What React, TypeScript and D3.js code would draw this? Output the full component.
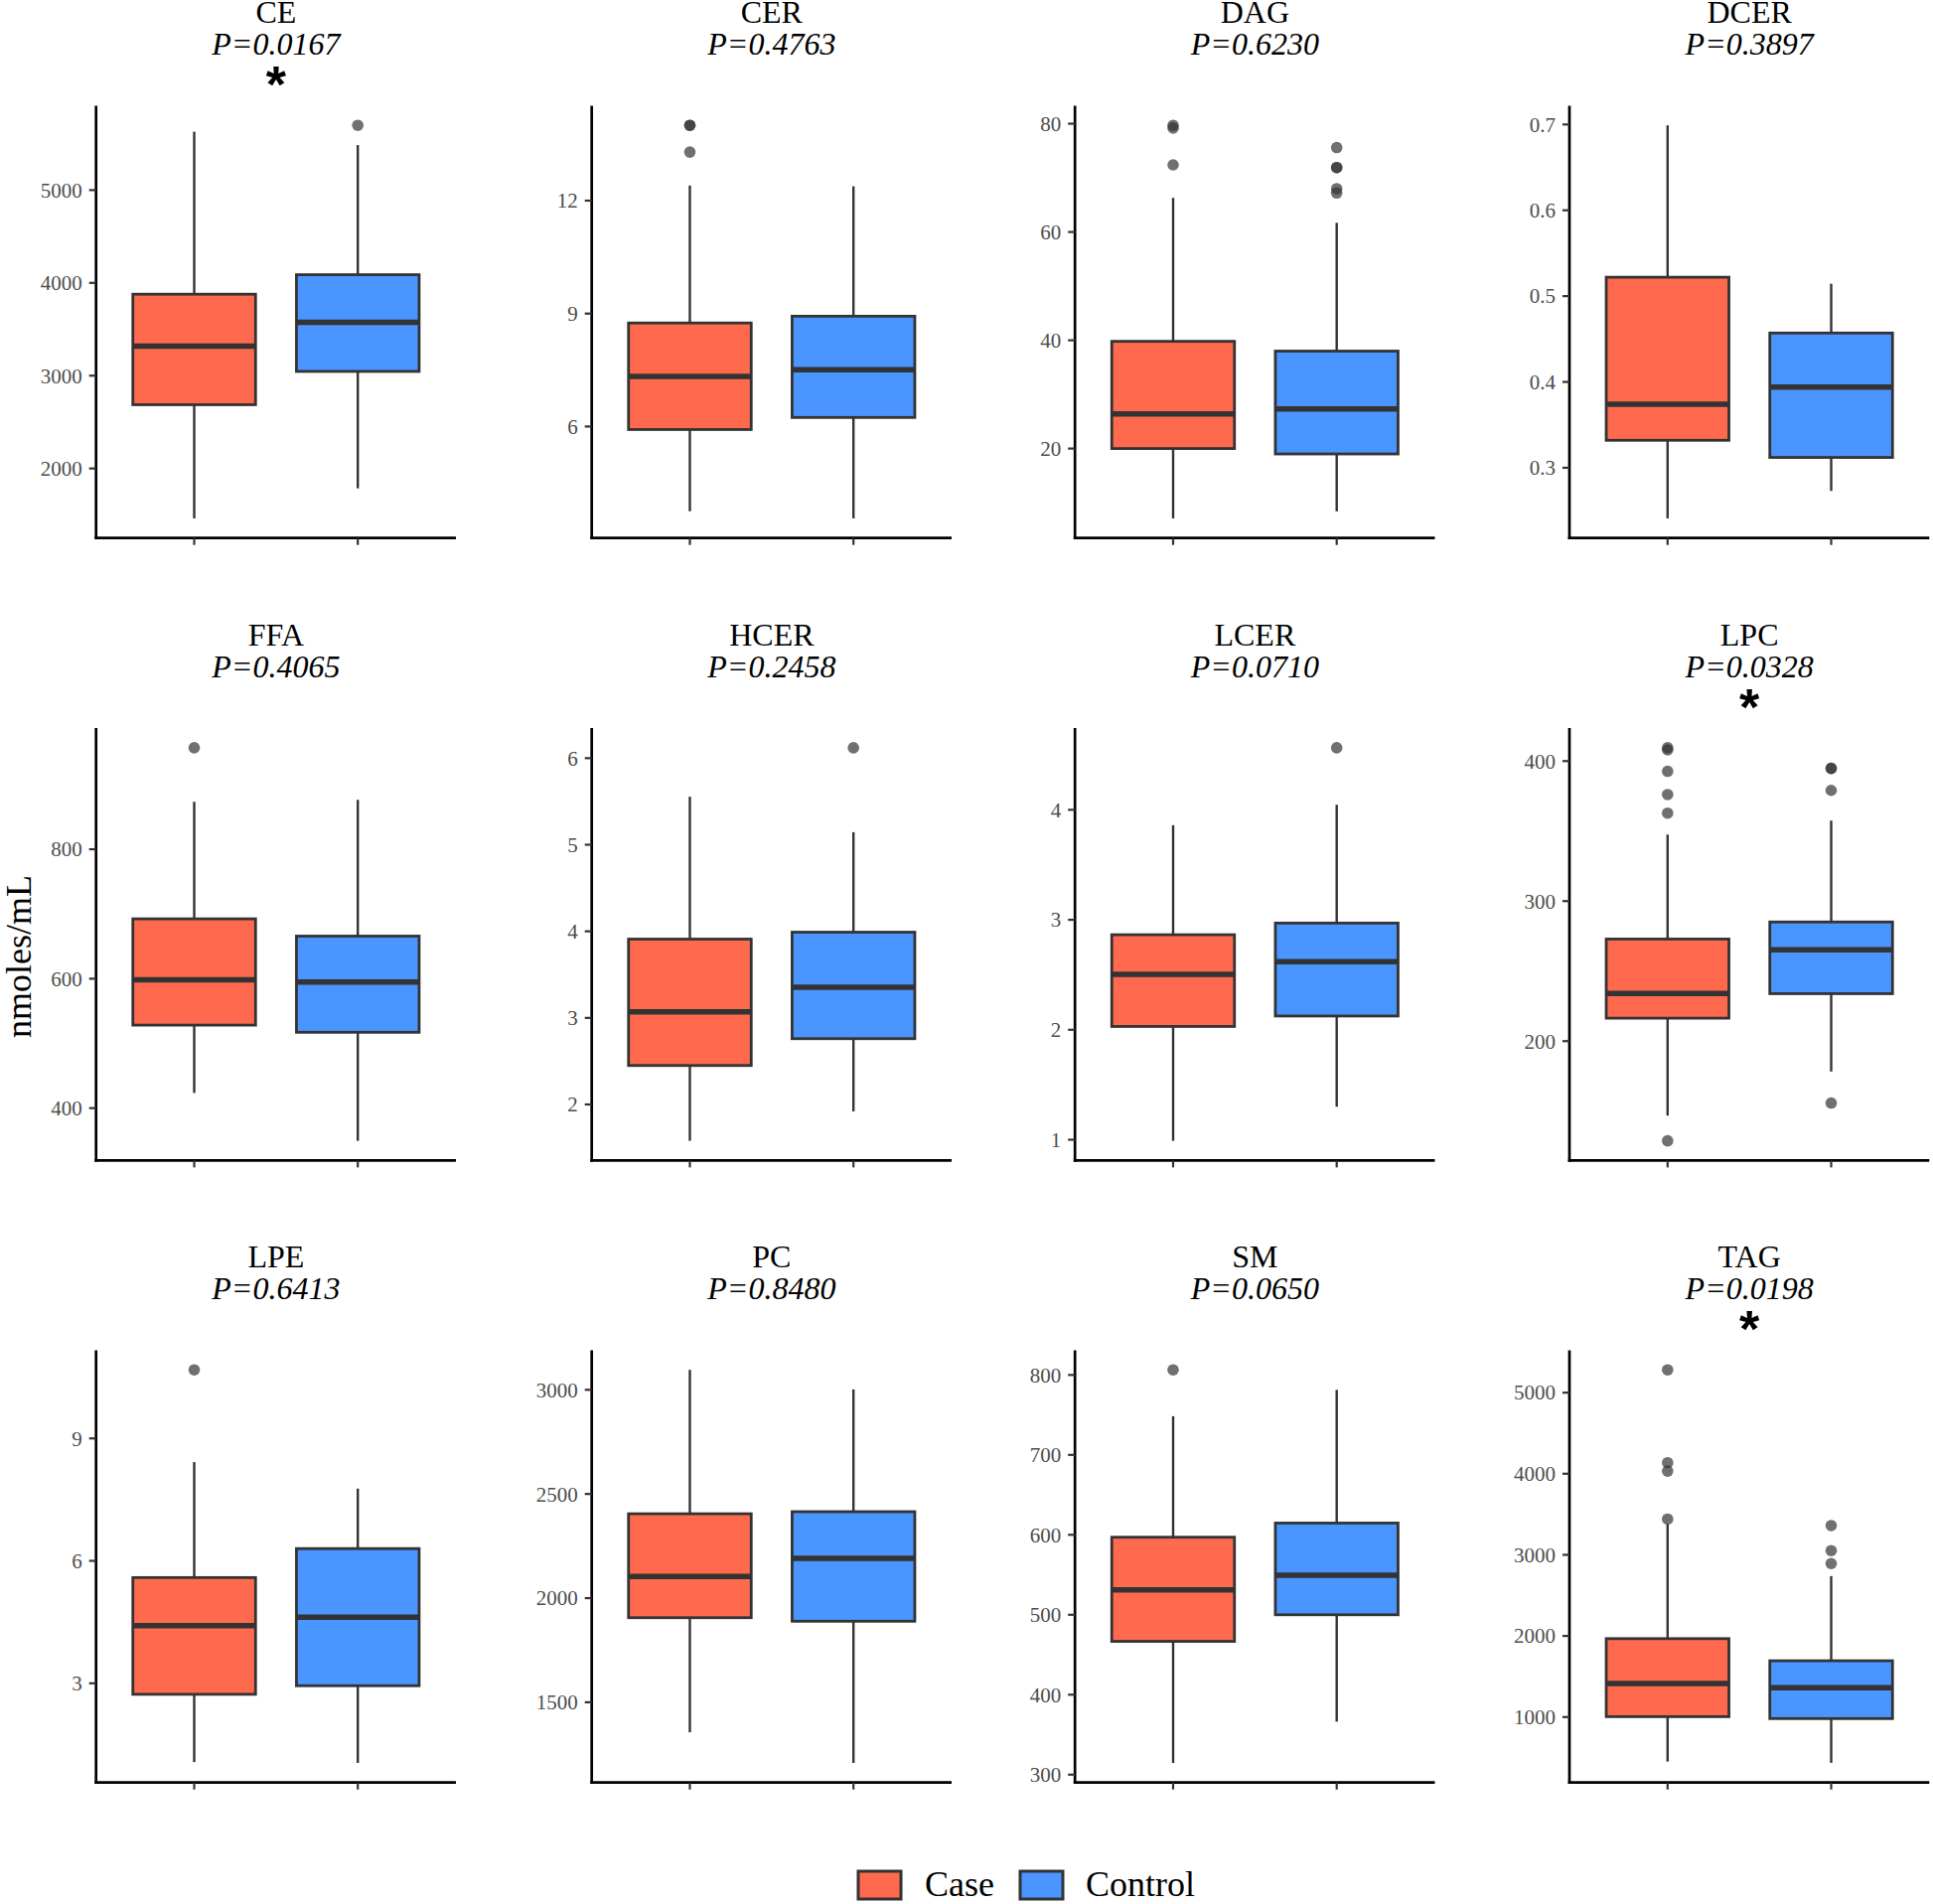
import React from "react";
import * as d3 from "d3";

// lipid classes, in panel order (row by row)
const lipids = ["CE", "CER", "DAG", "DCER", "FFA", "HCER", "LCER", "LPC", "LPE", "PC", "SM", "TAG"];
const pValues = ["0.0167", "0.4763", "0.6230", "0.3897", "0.4065", "0.2458", "0.0710", "0.0328", "0.6413", "0.8480", "0.0650", "0.0198"];

// [lower whisker, Q1, median, Q3, upper whisker]
const caseStats = [
  [1462, 2687, 3317, 3878, 5630],
  [3.75, 5.92, 7.33, 8.75, 12.4],
  [7.1, 20.0, 26.4, 39.8, 66.3],
  [0.241, 0.332, 0.374, 0.522, 0.699],
  [423.5, 528.3, 598.2, 692.5, 873.4],
  [1.58, 2.45, 3.07, 3.91, 5.555],
  [0.99, 2.03, 2.504, 2.864, 3.86],
  [146.8, 216.4, 234.1, 272.9, 347.5],
  [1.07, 2.73, 4.41, 5.59, 8.42],
  [1356, 1906, 2104, 2405, 3096],
  [314.7, 466.7, 531.1, 597, 748.4],
  [451, 1005, 1415, 1967, 3380],
];
const controlStats = [
  [1786, 3046, 3576, 4088, 5485],
  [3.56, 6.24, 7.51, 8.93, 12.38],
  [8.4, 19.0, 27.3, 38.0, 61.7],
  [0.273, 0.312, 0.394, 0.457, 0.5145],
  [349.5, 517.2, 594.7, 665.8, 876.4],
  [1.92, 2.76, 3.355, 3.99, 5.145],
  [1.3, 2.125, 2.618, 2.97, 4.046],
  [178.3, 233.9, 265.3, 285.1, 357.5],
  [1.05, 2.94, 4.62, 6.3, 7.77],
  [1209, 1889, 2191, 2415, 3002],
  [366.3, 500, 549.3, 614.7, 781.3],
  [435, 981, 1363, 1694, 2738],
];
const caseOutliers = [
  [],
  [14.0, 14.0, 13.29],
  [79.7, 79.2, 72.4],
  [],
  [956.8],
  [],
  [],
  [409.5, 408.0, 392.7, 376.1, 362.8, 128.8],
  [10.68],
  [],
  [806.4],
  [5281, 4136, 4033, 3441],
];
const controlOutliers = [
  [5698],
  [],
  [75.6, 71.9, 71.9, 68.0, 67.2],
  [],
  [],
  [6.12],
  [4.564],
  [394.8, 394.8, 379.1, 155.8],
  [],
  [],
  [],
  [3361, 3052, 2892],
];
const yTicks = [
  [2000, 3000, 4000, 5000],
  [6, 9, 12],
  [20, 40, 60, 80],
  [0.3, 0.4, 0.5, 0.6, 0.7],
  [400, 600, 800],
  [2, 3, 4, 5, 6],
  [1, 2, 3, 4],
  [200, 300, 400],
  [3, 6, 9],
  [1500, 2000, 2500, 3000],
  [300, 400, 500, 600, 700, 800],
  [1000, 2000, 3000, 4000, 5000],
];
const groups = ["Case", "Control"];
const groupColors = ["#FF6A4E", "#4A95FF"];

const W = 1946;
const H = 1917;
const colX = [96.7, 595.7, 1082.2, 1580];
const rowY = [106.4, 733.1, 1359.4];
const plotW = 362.3;
const plotH = 435.3;
const serif = "'Liberation Serif', 'Times New Roman', serif";
const boxStroke = "#333333";

const Panel = ({ i }: { i: number }) => {
  const x0 = colX[i % 4];
  const y0 = rowY[Math.floor(i / 4)];
  const x = d3.scalePoint().domain(groups).range([x0, x0 + plotW]).padding(0.6);
  const bw = x.step() * 0.75;

  const stats = [caseStats[i], controlStats[i]];
  const outs = [caseOutliers[i], controlOutliers[i]];
  const all = [...stats[0], ...stats[1], ...outs[0], ...outs[1]];
  const [lo, hi] = d3.extent(all) as [number, number];
  const pad = (hi - lo) * 0.05;
  const y = d3.scaleLinear().domain([lo - pad, hi + pad]).range([y0 + plotH, y0]);

  const cx = x0 + plotW / 2;
  const sig = +pValues[i] < 0.05;

  return (
    <g>
      <text x={cx} y={y0 - 83} textAnchor="middle" fontFamily={serif} fontSize={32} fill="#000">
        {lipids[i]}
      </text>
      <text x={cx} y={y0 - 51} textAnchor="middle" fontFamily={serif} fontStyle="italic" fontSize={32} fill="#000">
        {`P=${pValues[i]}`}
      </text>
      {sig && (
        <text x={cx} y={y0 - 3} textAnchor="middle" fontFamily="'Liberation Sans', Arial, sans-serif" fontWeight="bold" fontSize={52} fill="#000">
          *
        </text>
      )}

      {groups.map((g, k) => {
        const [wl, q1, md, q3, wh] = stats[k];
        const gx = x(g) as number;
        return (
          <g key={g}>
            <line x1={gx} x2={gx} y1={y(wl)} y2={y(q1)} stroke={boxStroke} strokeWidth={2.4} />
            <line x1={gx} x2={gx} y1={y(q3)} y2={y(wh)} stroke={boxStroke} strokeWidth={2.4} />
            <rect
              x={gx - bw / 2}
              y={y(q3)}
              width={bw}
              height={y(q1) - y(q3)}
              fill={groupColors[k]}
              stroke={boxStroke}
              strokeWidth={2.8}
            />
            <line x1={gx - bw / 2} x2={gx + bw / 2} y1={y(md)} y2={y(md)} stroke={boxStroke} strokeWidth={5.5} />
            {outs[k].map((v, j) => (
              <circle key={j} cx={gx} cy={y(v)} r={5.8} fill="#333333" fillOpacity={0.7} />
            ))}
          </g>
        );
      })}

      {/* y axis */}
      <line x1={x0} x2={x0} y1={y0} y2={y0 + plotH + 1.35} stroke="#000" strokeWidth={2.7} />
      {yTicks[i].map((t) => (
        <g key={t}>
          <line x1={x0 - 7} x2={x0} y1={y(t)} y2={y(t)} stroke={boxStroke} strokeWidth={2.2} />
          <text x={x0 - 14} y={y(t)} dy="0.35em" textAnchor="end" fontFamily={serif} fontSize={21} fill="#4d4d4d">
            {String(t)}
          </text>
        </g>
      ))}
      {/* x axis */}
      <line x1={x0 - 1.35} x2={x0 + plotW} y1={y0 + plotH} y2={y0 + plotH} stroke="#000" strokeWidth={2.7} />
      {groups.map((g) => (
        <line
          key={g}
          x1={x(g) as number}
          x2={x(g) as number}
          y1={y0 + plotH}
          y2={y0 + plotH + 7}
          stroke={boxStroke}
          strokeWidth={2.2}
        />
      ))}
    </g>
  );
};

export default function App() {
  const legendKeys = [864, 1027];
  const legendText = [931, 1093];
  return (
    <svg width={W} height={H} style={{ position: "absolute", left: 0, top: 0, background: "#fff" }}>
      <rect width={W} height={H} fill="#fff" />
      {lipids.map((_, i) => (
        <Panel key={i} i={i} />
      ))}
      <text
        transform="translate(31,963) rotate(-90)"
        textAnchor="middle"
        fontFamily={serif}
        fontSize={36}
        fill="#000"
      >
        nmoles/mL
      </text>
      {groups.map((g, k) => (
        <g key={g}>
          <rect x={legendKeys[k]} y={1884} width={43} height={28} fill={groupColors[k]} stroke={boxStroke} strokeWidth={3} />
          <text x={legendText[k]} y={1909} fontFamily={serif} fontSize={36} fill="#000">
            {g}
          </text>
        </g>
      ))}
    </svg>
  );
}
